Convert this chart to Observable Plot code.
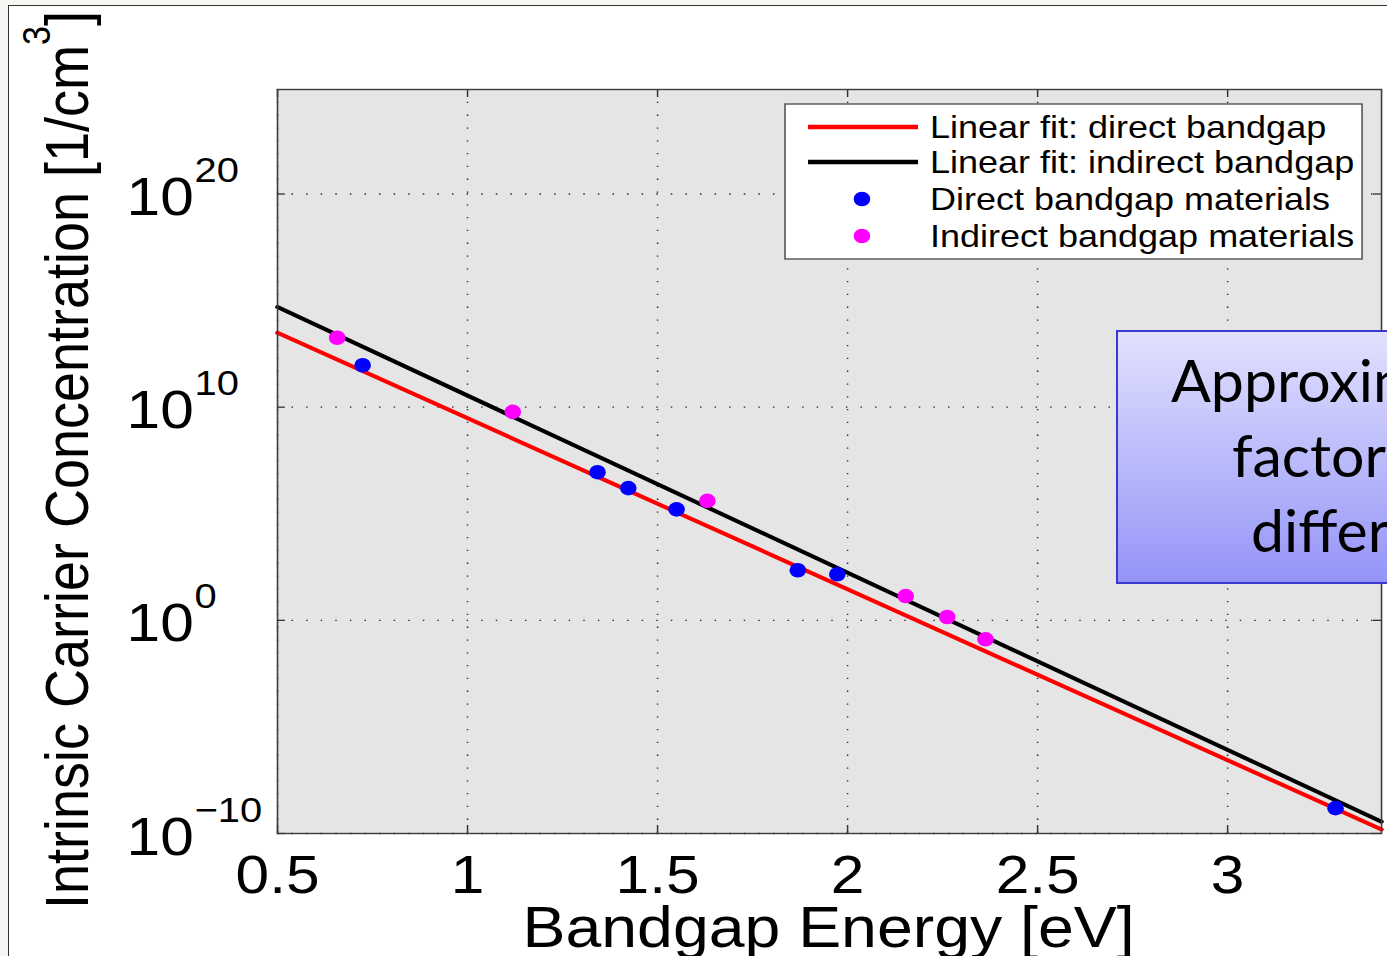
<!DOCTYPE html>
<html><head><meta charset="utf-8">
<script src="https://cdn.jsdelivr.net/npm/d3@7"></script>
<script src="https://cdn.jsdelivr.net/npm/@observablehq/plot@0.6"></script>
<style>
html,body{margin:0;padding:0;width:1387px;height:956px;overflow:hidden;background:#f7f6f2;}
#page{position:absolute;left:8px;top:5px;width:1400px;height:1000px;background:#fff;border-left:1.5px solid #333;border-top:1.5px solid #333;}
#stage{position:absolute;left:0;top:0;width:1217px;height:956px;transform:scaleX(1.1397);transform-origin:0 0;}
#overlay{position:absolute;left:0;top:0;}
</style>
</head><body>
<div id="page"></div>
<div id="stage"></div>
<svg id="overlay" width="1387" height="956"></svg>
<script>
// ---- data ----
const xTicks = [0.5, 1, 1.5, 2, 2.5, 3];
const yTicks = [1e-10, 1, 1e10, 1e20];
const yTickExp = ["\u221210", "0", "10", "20"];

const directE = [0.724, 1.342, 1.423, 1.550, 1.869, 1.973, 3.284];
const directN = [9.3e11, 8.9e6, 1.6e6, 1.6e5, 224, 145, 1.55e-9];

const indirectE = [0.657, 1.119, 1.631, 2.153, 2.262, 2.363];
const indirectN = [1.8e13, 6.0e9, 4.0e5, 13.8, 1.43, 0.129];

const fitE = [0.5, 3.405];
const directFitN = [3.1e13, 1.55e-10];
const indirectFitN = [5.0e14, 3.6e-10];

const legendLabels = ["Linear fit: direct bandgap", "Linear fit: indirect bandgap", "Direct bandgap materials", "Indirect bandgap materials"];
const noteLines = ["Approximately", "factor of ~10", "difference"];

// ---- layout (unscaled coordinates, stage stretched horizontally) ----
const W = 1217, H = 956, mL = 243, mR = 5.3, mT = 89, mB = 123;
const FW = W - mL - mR, FH = H - mT - mB;
const font = "'Liberation Sans', Arial, Helvetica, sans-serif";

const directRows = directE.map((e, i) => ({e, n: directN[i]}));
const indirectRows = indirectE.map((e, i) => ({e, n: indirectN[i]}));
const dFit = fitE.map((e, i) => ({e, n: directFitN[i]}));
const iFit = fitE.map((e, i) => ({e, n: indirectFitN[i]}));

const gridStyle = {stroke: "#2a2a2a", strokeOpacity: 1, strokeWidth: 1.3, strokeDasharray: "1.3,11.5"};

const chart = Plot.plot({
  width: W, height: H, marginLeft: mL, marginRight: mR, marginTop: mT, marginBottom: mB,
  x: {domain: [0.5, 3.405], axis: null},
  y: {type: "log", domain: [1e-10, 8e24], axis: null},
  style: {fontFamily: font, background: "transparent", color: "#000", overflow: "visible"},
  marks: [
    Plot.frame({fill: "#e5e5e5", stroke: null}),
    Plot.gridX(xTicks, gridStyle),
    Plot.gridY(yTicks, gridStyle),
    Plot.tickX(xTicks, {x: d => d, insetTop: FH - 8, stroke: "#333", strokeWidth: 1.3}),
    Plot.tickX(xTicks, {x: d => d, insetBottom: FH - 8, stroke: "#333", strokeWidth: 1.3}),
    Plot.tickY(yTicks, {y: d => d, insetRight: FW - 7, stroke: "#333", strokeWidth: 1.3}),
    Plot.tickY(yTicks, {y: d => d, insetLeft: FW - 7, stroke: "#333", strokeWidth: 1.3}),
    Plot.line(dFit, {x: "e", y: "n", stroke: "#ff0000", strokeWidth: 4}),
    Plot.line(iFit, {x: "e", y: "n", stroke: "#000000", strokeWidth: 4}),
    Plot.dot(directRows, {x: "e", y: "n", r: 7.3, fill: "#0000ff", stroke: null}),
    Plot.dot(indirectRows, {x: "e", y: "n", r: 7.3, fill: "#ff00ff", stroke: null}),
    Plot.frame({stroke: "#3c3c3c", strokeWidth: 1.4}),
    Plot.axisX(xTicks, {tickSize: 0, tickPadding: 22, fontSize: 53, label: null, tickFormat: d => String(d)}),
    Plot.text(yTicks, {y: d => d, frameAnchor: "left", dx: -132.4, dy: 21, text: () => "10",
      textAnchor: "start", lineAnchor: "bottom", fontSize: 53}),
    Plot.text(yTicks, {y: d => d, frameAnchor: "left", dx: -72.8, dy: -12, text: (d, i) => yTickExp[i],
      textAnchor: "start", lineAnchor: "bottom", fontSize: 35})
  ]
});
document.getElementById("stage").appendChild(chart);

const svg = d3.select(chart);

// axis titles
const yl = svg.append("text")
  .attr("transform", "translate(77.2,460) rotate(-90)")
  .attr("text-anchor", "middle").attr("font-size", 54).attr("font-family", font).attr("fill", "#000");
yl.append("tspan").text("Intrinsic Carrier Concentration [1/cm");
yl.append("tspan").attr("dy", -33).attr("font-size", 34).text("3");
yl.append("tspan").attr("dy", 33).text("]");

svg.append("text").attr("x", 727).attr("y", 947).attr("text-anchor", "middle")
  .attr("font-size", 56.5).attr("font-family", font).attr("fill", "#000").text("Bandgap Energy [eV]");

// legend
const lg = svg.append("g");
lg.append("rect").attr("x", 688.8).attr("y", 104).attr("width", 506.3).attr("height", 155)
  .attr("fill", "#fff").attr("stroke", "#555").attr("stroke-width", 1.4);
const rowsY = [127, 162, 199, 236];
lg.append("line").attr("x1", 709).attr("x2", 805.5).attr("y1", rowsY[0]).attr("y2", rowsY[0]).attr("stroke", "#ff0000").attr("stroke-width", 4.5);
lg.append("line").attr("x1", 709).attr("x2", 805.5).attr("y1", rowsY[1]).attr("y2", rowsY[1]).attr("stroke", "#000").attr("stroke-width", 4.5);
lg.append("circle").attr("cx", 756.3).attr("cy", rowsY[2]).attr("r", 7.3).attr("fill", "#0000ff");
lg.append("circle").attr("cx", 756.3).attr("cy", rowsY[3]).attr("r", 7.3).attr("fill", "#ff00ff");
legendLabels.forEach((t, i) => {
  lg.append("text").attr("x", 816).attr("y", rowsY[i] + 11).attr("font-size", 31.6)
    .attr("text-anchor", "start").attr("font-family", font).attr("fill", "#000").text(t);
});

// overlay note box (screen coordinates, not stretched)
const ov = d3.select("#overlay");
const defs = ov.append("defs");
const grad = defs.append("linearGradient").attr("id", "ng").attr("x1", 0).attr("y1", 0).attr("x2", 0).attr("y2", 1);
grad.append("stop").attr("offset", "0%").attr("stop-color", "#e2e2fe");
grad.append("stop").attr("offset", "100%").attr("stop-color", "#9494f8");
ov.append("rect").attr("x", 1117).attr("y", 331).attr("width", 400).attr("height", 252)
  .attr("fill", "url(#ng)").attr("stroke", "#3a3ad0").attr("stroke-width", 2);
const noteX = [1171, 1232, 1251], noteY = [401.7, 476.7, 551.7];
noteLines.forEach((t, i) => {
  ov.append("text").attr("x", noteX[i]).attr("y", noteY[i]).attr("font-size", 59)
    .attr("font-family", "Lato, 'Open Sans', sans-serif").attr("fill", "#000").text(t);
});
</script>
</body></html>
